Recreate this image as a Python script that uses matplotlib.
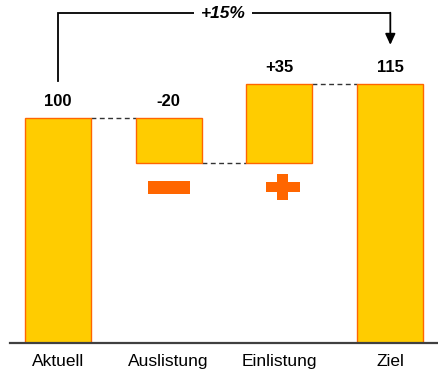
import matplotlib
matplotlib.use("Agg")
from matplotlib import pyplot as plt
from matplotlib.patches import Rectangle

plt.rcParams['font.family'] = ['Liberation Sans', 'DejaVu Sans']

categories = ["Aktuell", "Auslistung", "Einlistung", "Ziel"]
start = 100
deltas = [-20, 35]
target = 115
value_labels = ["100", "-20", "+35", "115"]
change_label = "+15%"

gold = "#FFCC00"
orange = "#FF6600"

# bottoms / tops of each bar of the waterfall
bottoms, tops = [0], [start]
level = start
for d in deltas:
    new = level + d
    bottoms.append(min(level, new))
    tops.append(max(level, new))
    level = new
bottoms.append(0)
tops.append(target)

fig = plt.figure(figsize=(4.38, 3.74), dpi=100)
ax = fig.add_axes([10/438, 31/374, 428/438, 343/374])
ppu = 2.25   # pixels per value unit
ax.set_xlim(-0.43, 3.43)
ax.set_ylim(0, 343/ppu)

w = 0.595
x = range(len(categories))
ax.bar(x, [t - b for t, b in zip(tops, bottoms)], bottom=bottoms, width=w,
       color=gold, edgecolor=orange, linewidth=1.0, zorder=2)

# dashed connectors between bars
levels = [start, start + deltas[0], target]
for i, lv in enumerate(levels):
    ax.plot([i + w/2, i + 1 - w/2], [lv, lv], ls=(0, (3.5, 2.5)),
            color="#333333", lw=1.0, zorder=1)

# value labels above bars
for i, lab in enumerate(value_labels):
    ax.annotate(lab, (i, tops[i]), xytext=(0, 12), textcoords="offset pixels",
                ha="center", va="baseline", fontsize=12, fontweight="bold")

# minus / plus signs under the change bars
px = 1/111   # x data units per pixel
py = 1/ppu
cy = bottoms[1] - 24.5*py
ax.add_patch(Rectangle((1 - 21*px, cy - 6.5*py), 42*px, 13*py,
                       color=orange, lw=0, zorder=3))
cx = 2 + 3.5*px
cy2 = bottoms[2] - 24*py
ax.add_patch(Rectangle((cx - 17*px, cy2 - 4.75*py), 34*px, 9.5*py,
                       color=orange, lw=0, zorder=3))
ax.add_patch(Rectangle((cx - 5.5*px, cy2 - 13*py), 11*px, 26*py,
                       color=orange, lw=0, zorder=3))

# bracket with change percentage
ytop = 146.5
ax.plot([0, 0, 3], [116.5, ytop, ytop], color="black", lw=1.3,
        solid_joinstyle="miter", zorder=2)
ax.annotate("", xy=(3, 132.5), xytext=(3, ytop + 0.3),
            arrowprops=dict(arrowstyle="-|>,head_length=0.65,head_width=0.3",
                            mutation_scale=10, color="black", lw=1.3,
                            shrinkA=0, shrinkB=0))
ax.text(1.49, ytop, change_label, ha="center", va="center", fontsize=12.5,
        fontweight="bold", fontstyle="italic", zorder=4,
        bbox=dict(facecolor="white", edgecolor="none", pad=5))

for s in ["top", "left", "right"]:
    ax.spines[s].set_visible(False)
ax.spines["bottom"].set_color("#404040")
ax.spines["bottom"].set_linewidth(1.6)
ax.set_yticks([])
ax.set_xticks(list(x))
ax.set_xticklabels(categories, fontsize=12.5)
ax.tick_params(axis="x", length=0, pad=8)

fig.savefig("out.png", dpi=100)
